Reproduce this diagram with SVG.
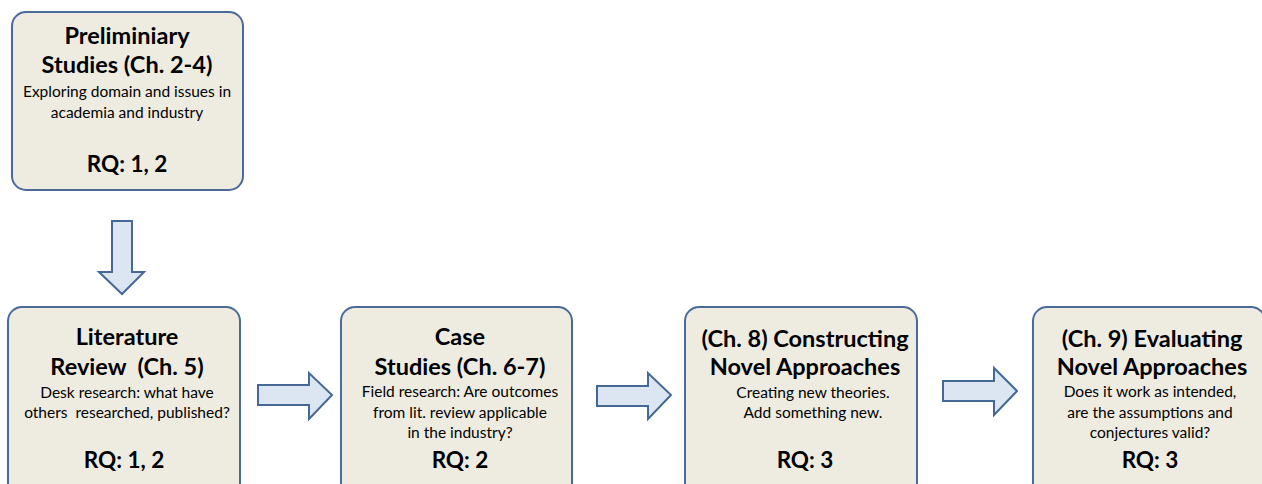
<svg xmlns="http://www.w3.org/2000/svg" width="1262" height="484" viewBox="0 0 1262 484">
  <style>
    .box { fill: #EEECE1; stroke: #4A6B9A; stroke-width: 2; }
    .arrow { fill: #DCE6F2; stroke: #456895; stroke-width: 2; stroke-linejoin: miter; }
    text { font-family: Lato, "Liberation Sans", sans-serif; fill: #000; text-anchor: middle; }
    .title { font-size: 23.5px; font-weight: bold; }
    .body { font-size: 15.5px; }
    .rq { font-size: 22.5px; font-weight: bold; }
  </style>

  <rect width="1262" height="484" fill="#FFFFFF"/>

  <!-- block arrows between the stages -->
  <g id="connectors">
    <polygon class="arrow" points="112,221 132,221 132,272 144,272 122,294 99,272 112,272"/>
    <polygon class="arrow" points="258,385 309,385 309,373 332,395 309,419 309,405 258,405"/>
    <polygon class="arrow" points="597,386 648,386 648,373 671,395 648,419 648,406 597,406"/>
    <polygon class="arrow" points="943,381 994,381 994,368 1017,391 994,415 994,401 943,401"/>
  </g>

  <g id="preliminary-studies">
    <rect class="box" x="12" y="12" width="231" height="178" rx="14"/>
    <text class="title" x="127" y="44">Preliminiary</text>
    <text class="title" x="127" y="73">Studies (Ch. 2-4)</text>
    <text class="body" x="127" y="97">Exploring domain and issues in</text>
    <text class="body" x="127" y="118">academia and industry</text>
    <text class="rq" x="127" y="172">RQ: 1, 2</text>
  </g>

  <g id="literature-review">
    <rect class="box" x="8" y="307" width="232" height="190" rx="14"/>
    <text class="title" x="127" y="345">Literature</text>
    <text class="title" x="127" y="375" xml:space="preserve">Review  (Ch. 5)</text>
    <text class="body" x="127" y="398">Desk research: what have</text>
    <text class="body" x="127" y="418" xml:space="preserve">others  researched, published?</text>
    <text class="rq" x="124" y="468">RQ: 1, 2</text>
  </g>

  <g id="case-studies">
    <rect class="box" x="341" y="307" width="231" height="190" rx="14"/>
    <text class="title" x="460" y="345">Case</text>
    <text class="title" x="460" y="375">Studies (Ch. 6-7)</text>
    <text class="body" x="460" y="397">Field research: Are outcomes</text>
    <text class="body" x="460" y="418">from lit. review applicable</text>
    <text class="body" x="460" y="438">in the industry?</text>
    <text class="rq" x="460" y="468">RQ: 2</text>
  </g>

  <g id="constructing-approaches">
    <rect class="box" x="685" y="307" width="232" height="190" rx="14"/>
    <text class="title" x="805" y="347">(Ch. 8) Constructing</text>
    <text class="title" x="805" y="375">Novel Approaches</text>
    <text class="body" x="813" y="398">Creating new theories.</text>
    <text class="body" x="813" y="418">Add something new.</text>
    <text class="rq" x="805" y="468">RQ: 3</text>
  </g>

  <g id="evaluating-approaches">
    <rect class="box" x="1033" y="307" width="232" height="190" rx="14"/>
    <text class="title" x="1152" y="347">(Ch. 9) Evaluating</text>
    <text class="title" x="1152" y="375">Novel Approaches</text>
    <text class="body" x="1150" y="397">Does it work as intended,</text>
    <text class="body" x="1150" y="418">are the assumptions and</text>
    <text class="body" x="1150" y="438">conjectures valid?</text>
    <text class="rq" x="1150" y="468">RQ: 3</text>
  </g>
</svg>
